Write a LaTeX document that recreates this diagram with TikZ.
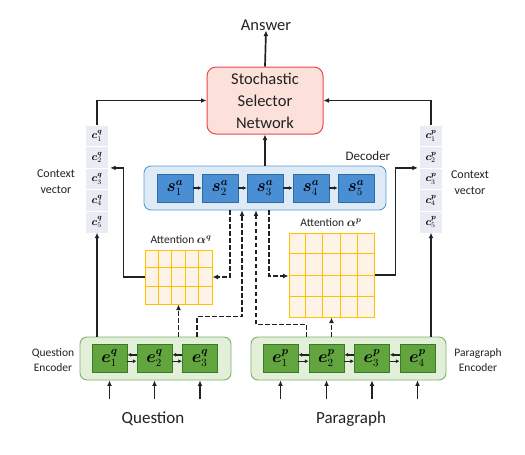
\documentclass[tikz,border=0pt]{standalone}
\usepackage{fontspec}
\setmainfont{Carlito}
\usepackage{amsmath}
\usepackage{bm}
\usetikzlibrary{arrows.meta,calc}
\definecolor{selfill}{HTML}{FBE1D9}
\definecolor{seldraw}{HTML}{E8474C}
\definecolor{decfill}{HTML}{DEEBF7}
\definecolor{decdraw}{HTML}{5B9BD5}
\definecolor{sfill}{HTML}{4A8FD4}
\definecolor{sdraw}{HTML}{2E6DA4}
\definecolor{encfill}{HTML}{E2F0D9}
\definecolor{encdraw}{HTML}{7FAF6B}
\definecolor{efill}{HTML}{62A53F}
\definecolor{edraw}{HTML}{3B7A24}
\definecolor{attfill}{HTML}{FDF3E6}
\definecolor{attline}{HTML}{FFC000}
\definecolor{ctxfill}{HTML}{E9EBF5}
\definecolor{txt}{HTML}{222222}
\tikzset{
  lbl/.style={inner sep=0pt, text=txt, align=center},
  arr/.style={line width=1.7pt, draw=txt, -{Latex[length=5.5pt,width=5pt]}},
  darr/.style={line width=1.7pt, draw=txt, dashed, dash pattern=on 4.5pt off 2.5pt, -{Latex[length=5.5pt,width=5pt]}},
  sarr/.style={line width=1.4pt, draw=txt, -{Latex[length=3.8pt,width=4pt]}},
  scell/.style={draw=sdraw, fill=sfill, line width=0.8pt, minimum width=36pt, minimum height=28pt, inner sep=0pt, font=\fontsize{16}{18}\selectfont},
  ecell/.style={draw=edraw, fill=efill, line width=0.8pt, minimum width=35pt, minimum height=28pt, inner sep=0pt, font=\fontsize{16}{18}\selectfont},
  ccell/.style={fill=ctxfill, minimum width=22pt, minimum height=20.6pt, inner sep=0pt, font=\fontsize{10.5}{11}\selectfont},
  attbox/.style={fill=attfill, draw=attline, line width=1pt, inner sep=0pt},
  attgrid/.style={draw=attline, line width=1pt},
}
\begin{document}
\begin{tikzpicture}[x=1pt,y=-1pt]
\useasboundingbox (0,0) rectangle (525,455);
% Answer + selector
\node[lbl, font=\fontsize{16.5}{19}\selectfont] (ans) at (266,25) {Answer};
\node[draw=seldraw, fill=selfill, line width=1pt, rounded corners=9pt, minimum width=116pt, minimum height=67pt, inner sep=0pt, align=center, text=txt, font=\fontsize{16.5}{22}\selectfont] (sel) at (265,100.5) {Stochastic\\Selector\\Network};
\draw[arr] (sel.north) -- (ans.south);
% Decoder
\node[draw=decdraw, fill=decfill, line width=0.9pt, rounded corners=7pt, minimum width=242pt, minimum height=44pt, inner sep=0pt] (dec) at (265,188) {};
\node[lbl, font=\fontsize{13}{15}\selectfont] (declbl) at (368,156) {Decoder};
\foreach \i/\x in {1/175,2/220,3/265,4/311,5/356}
  \node[scell] (s\i) at (\x,188) {$\bm{s}^{\bm{a}}_{\i}$};
\foreach \i/\j in {1/2,2/3,3/4,4/5}
  \draw[sarr] (s\i.east) -- (s\j.west);
\draw[arr] (dec.north) -- (sel.south);
% Context vectors
\foreach \i/\y in {1/135.8,2/157.4,3/179,4/200.6,5/222.2}{
  \node[ccell] (cq\i) at (97,\y) {$\bm{c}^{\bm{q}}_{\i}$};
  \node[ccell] (cp\i) at (431,\y) {$\bm{c}^{\bm{p}}_{\i}$};
}
\node[lbl, font=\fontsize{12}{16}\selectfont] (ctxl) at (56,182) {Context\\vector};
\node[lbl, font=\fontsize{12}{16}\selectfont] (ctxr) at (470,183) {Context\\vector};
\draw[arr] (cq1.north) |- (sel.west);
\draw[arr] (cp1.north) |- (sel.east);
% Attention grids
\node[attbox, minimum width=67pt, minimum height=54pt] (aq) at (178.5,277) {};
\foreach \i in {1,...,4}
  \draw[attgrid] ($(aq.north west)!\i/5!(aq.north east)$) -- ($(aq.south west)!\i/5!(aq.south east)$);
\foreach \i in {1,2}
  \draw[attgrid] ($(aq.north west)!\i/3!(aq.south west)$) -- ($(aq.north east)!\i/3!(aq.south east)$);
\node[attbox, minimum width=85pt, minimum height=84pt] (ap) at (331.5,275) {};
\foreach \i in {1,...,4}
  \draw[attgrid] ($(ap.north west)!\i/5!(ap.north east)$) -- ($(ap.south west)!\i/5!(ap.south east)$);
\foreach \i in {1,2,3}
  \draw[attgrid] ($(ap.north west)!\i/4!(ap.south west)$) -- ($(ap.north east)!\i/4!(ap.south east)$);
\node[lbl, font=\fontsize{11.5}{13}\selectfont] (aql) at (181,240) {Attention $\bm{\alpha}^{\bm{q}}$};
\node[lbl, font=\fontsize{11.5}{13}\selectfont] (apl) at (331,223) {Attention $\bm{\alpha}^{\bm{p}}$};
\draw[arr] (aq.west) -- ++(-21,0) |- ([xshift=2pt]cq2.south east);
\draw[arr] (ap.east) -- ++(21,0) |- ([xshift=-2pt]cp2.south west);
% Encoders
\node[draw=encdraw, fill=encfill, line width=0.9pt, rounded corners=7pt, minimum width=151pt, minimum height=43pt, inner sep=0pt] (qenc) at (155.5,358.5) {};
\node[draw=encdraw, fill=encfill, line width=0.9pt, rounded corners=7pt, minimum width=195pt, minimum height=43pt, inner sep=0pt] (penc) at (348.5,358.5) {};
\foreach \i/\x in {1/109.5,2/154.5,3/200}
  \node[ecell] (eq\i) at (\x,358) {$\bm{e}^{\bm{q}}_{\i}$};
\foreach \i/\x in {1/280.5,2/326.5,3/372,4/417.5}
  \node[ecell] (ep\i) at (\x,358) {$\bm{e}^{\bm{p}}_{\i}$};
\foreach \a/\b in {eq1/eq2,eq2/eq3,ep1/ep2,ep2/ep3,ep3/ep4}{
  \draw[sarr] ([yshift=3.2pt]\b.west) -- ([yshift=3.2pt]\a.east);
  \draw[sarr] ([yshift=-3.2pt]\a.east) -- ([yshift=-3.2pt]\b.west);
}
\node[lbl, font=\fontsize{11.5}{15}\selectfont] (qencl) at (53,360) {Question\\Encoder};
\node[lbl, font=\fontsize{11.5}{15}\selectfont] (pencl) at (478,360) {Paragraph\\Encoder};
\draw[arr] (cq5.south |- qenc.north) -- (cq5.south);
\draw[arr] (cp5.south |- penc.north) -- (cp5.south);
\draw[darr] (aq.south |- qenc.north) -- (aq.south);
\draw[darr] (ap.south |- penc.north) -- (ap.south);
% Dashed decoder links
\draw[darr] ([xshift=-35pt]dec.south) |- (aq.east);
\draw[darr] ([xshift=4pt]dec.south) |- ([yshift=-1pt]ap.west);
\draw[darr] ([xshift=-3pt]eq3.north |- qenc.north) -- ++(0,-20) -| ([xshift=-23pt]dec.south);
\draw[darr] ([xshift=-2pt]ep2.north west |- penc.north) -- ++(0,-12) -| ([xshift=-9pt]dec.south);
% Inputs
\foreach \n in {eq1,eq2,eq3}
  \draw[arr] ($(qenc.south -| \n)+(0,19)$) -- (qenc.south -| \n);
\foreach \n in {ep1,ep2,ep3,ep4}
  \draw[arr] ($(penc.south -| \n)+(0,19)$) -- (penc.south -| \n);
\node[lbl, font=\fontsize{17}{19}\selectfont] (qlbl) at (153,419) {Question};
\node[lbl, font=\fontsize{17}{19}\selectfont] (plbl) at (351,419) {Paragraph};
\end{tikzpicture}
\end{document}
